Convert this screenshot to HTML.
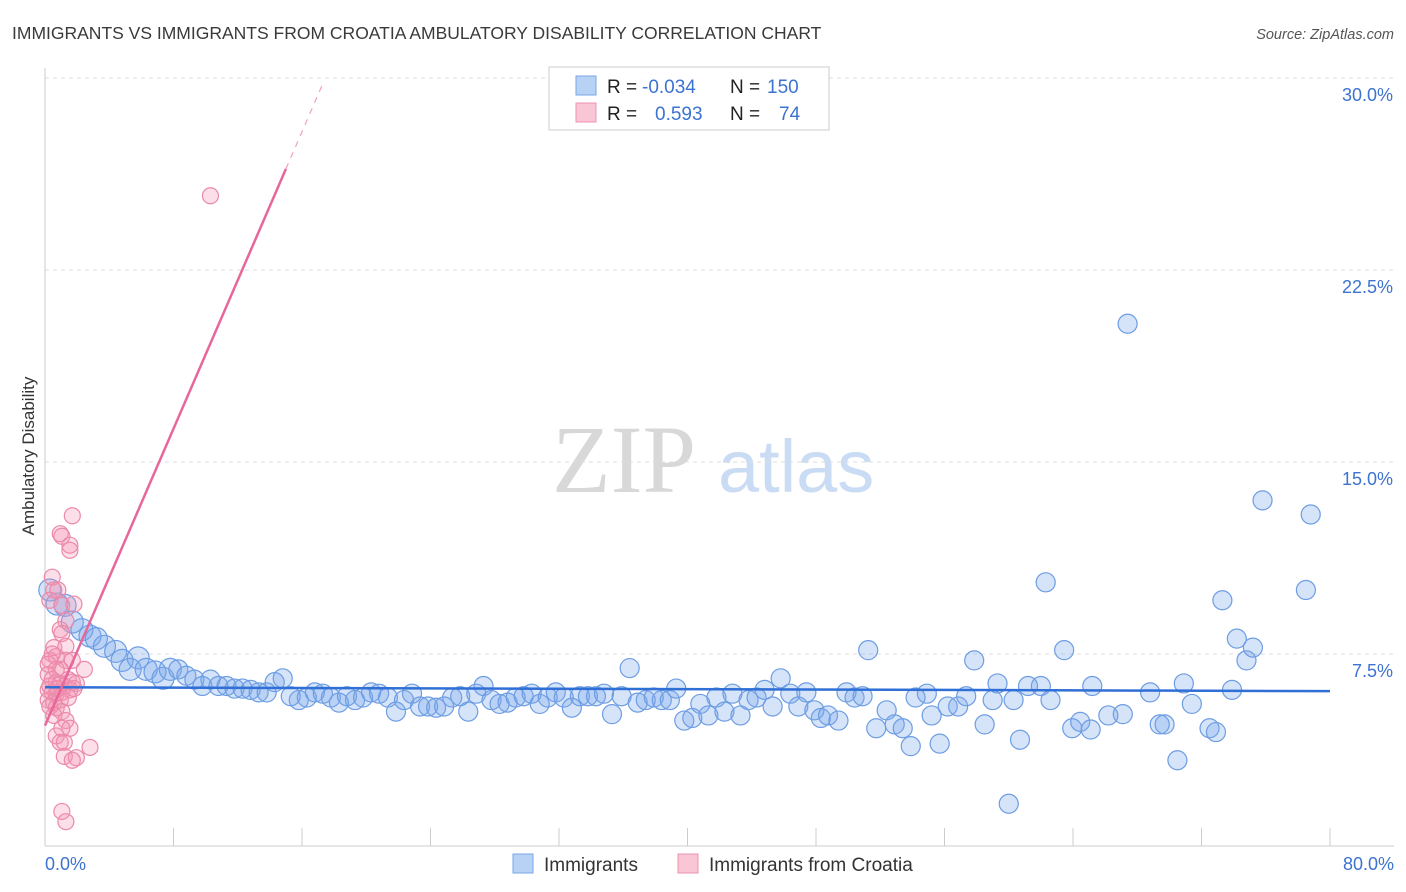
<!DOCTYPE html>
<html><head><meta charset="utf-8"><style>
body{margin:0;background:#fff;font-family:"Liberation Sans",sans-serif;}
svg{display:block}
</style></head><body>
<svg id="chart" width="1406" height="892" xmlns="http://www.w3.org/2000/svg" font-family="Liberation Sans, sans-serif">
<text x="12" y="39" font-size="17.5" fill="#3a3a3a">IMMIGRANTS VS IMMIGRANTS FROM CROATIA AMBULATORY DISABILITY CORRELATION CHART</text>
<text x="1394" y="39" font-size="14.5" font-style="italic" fill="#555" text-anchor="end">Source: ZipAtlas.com</text>
<g>
<text x="552" y="492" font-size="96" font-family="Liberation Serif, serif" fill="#d8d8d8">ZIP</text>
<text x="718" y="492" font-size="74" fill="#c9dcf3">atlas</text>
</g>
<g id="grid"></g>
<g id="axes"></g>
<g id="pts"></g>
<g id="trends"></g>
<text transform="translate(34,456) rotate(-90)" font-size="17" fill="#333" text-anchor="middle">Ambulatory Disability</text>
<g>
<rect x="549" y="67" width="280" height="63" fill="#fff" stroke="#ccc"/>
<rect x="576" y="76" width="20" height="19" fill="#b8d2f5" stroke="#7aa6e6"/>
<rect x="576" y="103" width="20" height="19" fill="#f9c6d6" stroke="#ee93b0"/>
<text x="607" y="93" font-size="19" fill="#222">R =</text>
<text x="642" y="93" font-size="19" fill="#3d73d0">-0.034</text>
<text x="730" y="93" font-size="19" fill="#222">N =</text>
<text x="767" y="93" font-size="19" fill="#3d73d0">150</text>
<text x="607" y="120" font-size="19" fill="#222">R =</text>
<text x="655" y="120" font-size="19" fill="#3d73d0">0.593</text>
<text x="730" y="120" font-size="19" fill="#222">N =</text>
<text x="779" y="120" font-size="19" fill="#3d73d0">74</text>
</g>
<g>
<rect x="513" y="854" width="20" height="19" fill="#b8d2f5" stroke="#7aa6e6"/>
<text x="544" y="871" font-size="19" fill="#333">Immigrants</text>
<rect x="678" y="854" width="20" height="19" fill="#f9c6d6" stroke="#ee93b0"/>
<text x="709" y="871" font-size="19" fill="#333">Immigrants from Croatia</text>
</g>
</svg>
<script>
const yTicks=[7.5,15,22.5,30];
const yTickLabels=["7.5%","15.0%","22.5%","30.0%"];
const xTicks=[0,8,16,24,32,40,48,56,64,72,80];
const xEndLabels=["0.0%","80.0%"];
const blueX=[0.3,0.75,1.25,1.7,2.3,2.8,3.2,3.7,4.4,4.8,5.3,5.8,6.3,6.85,7.35,7.8,8.3,8.8,9.3,9.8,10.3,10.8,11.3,11.8,12.3,12.8,13.3,13.8,14.3,14.8,15.3,15.8,16.3,16.8,17.3,17.8,18.3,18.8,19.3,19.8,20.3,20.8,21.35,21.85,22.35,22.85,23.35,23.85,24.35,24.85,25.35,25.85,26.35,26.85,27.3,27.8,28.3,28.8,29.3,29.8,30.3,30.8,31.3,31.8,32.3,32.8,33.3,33.8,34.3,34.8,35.3,35.9,36.4,36.9,37.4,37.9,38.4,38.9,39.3,39.8,40.3,40.8,41.3,41.8,42.3,42.8,43.3,43.8,44.3,44.8,45.3,45.8,46.4,46.9,47.4,47.9,48.3,48.75,49.4,49.9,50.4,50.9,51.25,51.75,52.4,52.9,53.4,53.9,54.2,54.9,55.2,55.7,56.2,56.85,57.35,57.85,58.5,59.0,59.3,60.0,60.3,60.7,61.2,62.0,62.3,62.6,63.45,63.95,64.45,65.1,65.2,66.2,67.1,67.4,68.8,69.4,69.7,70.5,70.9,71.4,72.5,72.9,73.3,73.9,74.2,74.8,75.2,75.8,78.5,78.8];
const blueY=[10.0,9.45,9.4,8.75,8.45,8.2,8.1,7.8,7.6,7.25,6.9,7.35,6.9,6.8,6.55,6.9,6.9,6.65,6.5,6.25,6.5,6.25,6.25,6.15,6.15,6.1,6.0,6.0,6.4,6.55,5.85,5.7,5.8,6.0,5.95,5.8,5.6,5.85,5.7,5.8,6.0,5.95,5.8,5.25,5.7,5.95,5.45,5.45,5.4,5.45,5.8,5.85,5.25,5.95,6.25,5.7,5.55,5.6,5.8,5.85,5.95,5.55,5.8,6.0,5.8,5.4,5.85,5.85,5.85,5.95,5.15,5.85,6.95,5.6,5.7,5.8,5.7,5.7,6.15,4.9,5.0,5.55,5.1,5.8,5.25,5.95,5.1,5.7,5.8,6.1,5.45,6.55,5.95,5.45,6.0,5.3,5.0,5.1,4.9,6.0,5.8,5.85,7.65,4.6,5.3,4.75,4.6,3.9,5.8,5.95,5.1,4.0,5.45,5.45,5.85,7.25,4.75,5.7,6.35,1.65,5.7,4.15,6.25,6.25,10.3,5.7,7.65,4.6,4.85,4.55,6.25,5.1,5.15,20.4,6.0,4.75,4.75,3.35,6.35,5.55,4.6,4.45,9.6,6.1,8.1,7.25,7.75,13.5,10.0,12.95];
const pinkX=[0.45,0.55,0.8,0.3,1.05,1.3,1.7,0.95,1.05,1.55,1.55,1.8,0.95,1.05,0.45,0.7,0.3,1.3,1.7,0.95,0.2,0.45,0.7,0.95,1.2,1.45,1.7,1.95,0.2,0.45,0.7,1.05,1.55,0.2,0.55,0.95,1.45,0.3,0.7,1.05,0.55,1.3,1.55,1.05,0.7,0.95,1.2,2.8,1.2,1.95,1.7,1.05,1.3,10.3,2.45,0.7,0.2,0.55,1.3,1.8,0.3,0.8];
const pinkY=[10.5,10.0,10.0,9.6,9.4,8.8,12.9,12.2,12.1,11.75,11.55,9.45,8.45,8.3,7.5,7.4,7.25,7.25,7.25,6.9,6.7,6.5,6.4,6.35,6.25,6.5,6.4,6.35,6.1,6.0,5.95,6.0,6.1,5.7,5.6,5.7,5.8,5.45,5.4,5.25,5.1,4.9,4.6,4.6,4.3,4.05,4.05,3.85,3.5,3.45,3.35,1.35,0.95,25.4,6.9,6.9,7.1,7.75,7.8,6.15,6.25,6.15];
const blueTrend=[6.2,6.05];
const pinkTrend=[4.7,1.45];
const X0=45,X1=1330,Y0=846;
const xs=v=>X0+(v/80)*(X1-X0);
const ys=v=>Y0-v*25.6;
const NS="http://www.w3.org/2000/svg";
function mk(tag,parent,attrs){const e=document.createElementNS(NS,tag);for(const k in attrs)e.setAttribute(k,attrs[k]);document.getElementById(parent).appendChild(e);return e;}
yTicks.forEach((t,i)=>{
 const l=mk('line','grid',{x1:X0,x2:1394,y1:ys(t),y2:ys(t),stroke:'#ddd','stroke-dasharray':'4,4'});
 
 
 const tx=mk('text','grid',{x:1393,y:ys(t)+23,'font-size':18,fill:'#3d73d0','text-anchor':'end'});
 tx.textContent=yTickLabels[i];
 
 
});
const ax=mk('line','axes',{x1:X0,x2:X0,y1:68,y2:Y0,stroke:'#ccc'});


const bx=mk('line','axes',{x1:X0,x2:1394,y1:Y0,y2:Y0,stroke:'#ccc'});


xTicks.forEach(t=>{
 const l=mk('line','axes',{x1:xs(t),x2:xs(t),y1:Y0,y2:Y0-18,stroke:'#ccc'});
 
 
});
const xl0=mk('text','axes',{x:45,y:870,'font-size':18,fill:'#3d73d0'});xl0.textContent=xEndLabels[0];


const xl1=mk('text','axes',{x:1394,y:870,'font-size':18,fill:'#3d73d0','text-anchor':'end'});xl1.textContent=xEndLabels[1];


blueX.forEach((x,i)=>{
 const r=x<8?11:9.5;
 const c=mk('circle','pts',{cx:xs(x),cy:ys(blueY[i]),r:r,fill:'rgba(120,165,235,0.3)',stroke:'#6d9de3','stroke-width':1.2});
 
 
});
pinkX.forEach((x,i)=>{
 const c=mk('circle','pts',{cx:xs(x),cy:ys(pinkY[i]),r:8,fill:'rgba(245,150,180,0.3)',stroke:'#ea8aaa','stroke-width':1.2});
 
 
});
const bt=mk('line','trends',{x1:xs(0),x2:xs(80),y1:ys(blueTrend[0]),y2:ys(blueTrend[0]+(blueTrend[1]-blueTrend[0])),stroke:'#2f6fd6','stroke-width':2.5});


const pe=v=>pinkTrend[0]+pinkTrend[1]*v;
const pt=mk('line','trends',{x1:xs(0),x2:xs(15),y1:ys(pe(0)),y2:ys(pe(15)),stroke:'#e8679a','stroke-width':2.5});


const pd=mk('line','trends',{x1:xs(15),x2:xs(17.3),y1:ys(pe(15)),y2:ys(pe(17.3)),stroke:'#f0a0bd','stroke-width':1.2,'stroke-dasharray':'6,6'});


</script>
</body></html>
